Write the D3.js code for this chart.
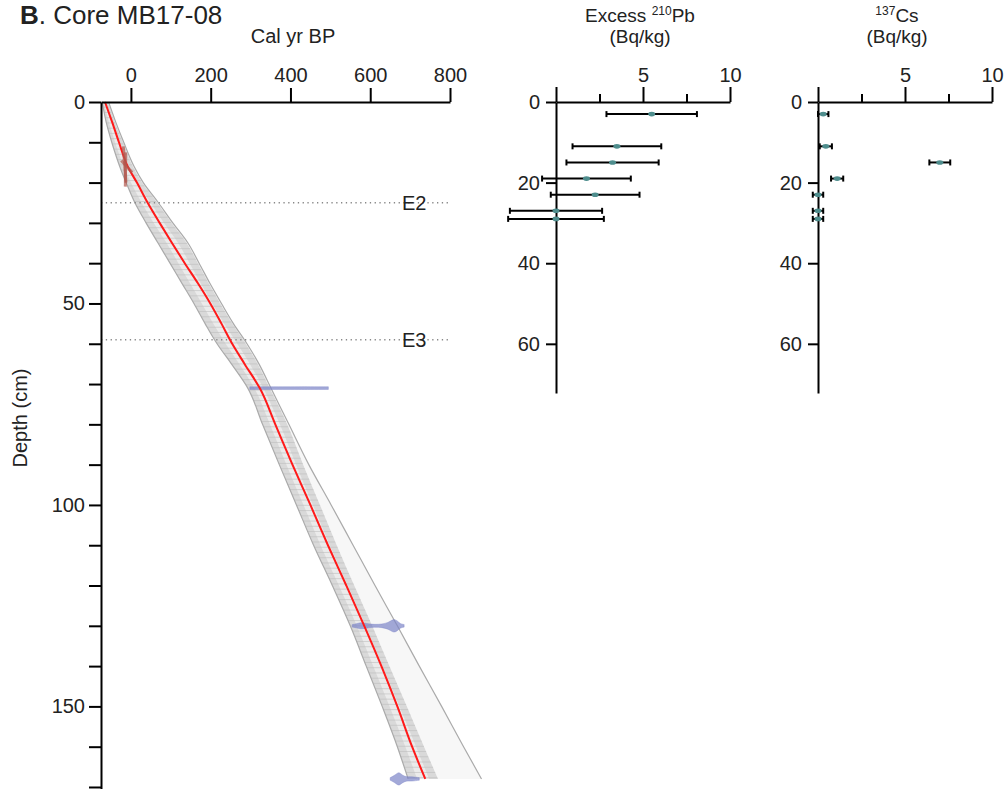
<!DOCTYPE html>
<html><head><meta charset="utf-8">
<script src="https://cdn.jsdelivr.net/npm/d3@7/dist/d3.min.js"></script>
<style>
body{margin:0;background:#fff;}
svg{display:block;font-family:"Liberation Sans",Arial,sans-serif;}
.ax path,.ax line{stroke:#000;stroke-width:2;}
.ax text{font-size:20px;fill:#222;font-family:"Liberation Sans",Arial,sans-serif;}
</style></head>
<body>
<svg id="c" width="1006" height="789"></svg>
<script>
// ---------- DATA ----------
// Age-depth model (median and envelope), depth in cm, age in cal yr BP
const modelDepth = [0,5,10,16,20,25,30,35,40,45,50,55,60,65,71,80,90,100,110,120,130,140,150,160,168];
const modelMedian = [-65,-47,-30,-8,15,42,72,103,135,168,199,227,254,285,323,362,405,450,494,540,585,628,668,705,738];
const modelLower  = [-72,-62,-48,-28,-12,10,38,68,98,128,158,186,216,252,293,330,372,415,458,505,550,590,630,668,695];
const modelUpper  = [-58,-40,-20,5,28,66,102,140,168,195,224,254,288,318,348,392,432,474,516,560,605,648,692,735,770];
const modelOuter  = [-56,-38,-18,8,31,69,105,143,171,198,227,257,291,321,351,396,446,502,557,612,668,723,779,834,879];
// Event horizons
const eventNames = ["E2","E3"];
const eventDepths = [25,59];
// Calibrated radiocarbon dates (age, relative probability) at depth
const calDepths = [71,130,168];
const calAges = [
  [298,310,330,360,380,400,420,435,450,470,495],
  [555,565,575,585,595,610,630,645,655,660,668,675,685],
  [650,660,668,673,680,690,700,710,723]
];
const calProb = [
  [0.2,0.35,0.4,0.3,0.3,0.35,0.4,0.5,0.35,0.25,0.2],
  [0.15,0.3,0.5,0.45,0.3,0.2,0.25,0.5,0.9,1.0,0.8,0.3,0.15],
  [0.15,0.5,0.9,1.0,0.6,0.3,0.35,0.3,0.1]
];
// 210Pb-derived age ranges plotted on the model: [age1, depth1, age2, depth2]
const pbAgeSegs = [[-19,11,-12.5,20],[-24,14.5,3,17.5],[-13,12.5,-14,21]];
// Excess 210Pb
const pbDepth = [3,11,15,19,23,27,29];
const pbValue = [5.5,3.5,3.25,1.75,2.25,0,0];
const pbErr   = [2.6,2.55,2.65,2.55,2.55,2.65,2.75];
// 137Cs
const csDepth = [3,11,15,19,23,27,29];
const csValue = [0.3,0.45,7.0,1.1,0,0,0];
const csErr   = [0.3,0.35,0.6,0.35,0.3,0.3,0.3];
// Tick labels
const ageTicks = [0,200,400,600,800];
const depthTicks = d3.range(0,171,10);
const smallDepthTicks = [0,20,40,60];
const concMajor = [0,5,10];
const concMinor = [2.5,7.5];

// ---------- SCALES ----------
const svg = d3.select("#c");
const x = d3.scaleLinear().domain([-75,800]).range([101,450]);
const y = d3.scaleLinear().domain([0,170.5]).range([102,789]);
const xPb = d3.scaleLinear().domain([0,10]).range([556,730]);
const yPb = d3.scaleLinear().domain([0,72.2]).range([102,393]);
const xCs = d3.scaleLinear().domain([0,10]).range([818,992]);
const yCs = yPb;

// ---------- TITLE ----------
const t = svg.append("text").attr("x",20).attr("y",24).attr("font-size",26).attr("fill","#222");
t.append("tspan").attr("font-weight","bold").text("B");
t.append("tspan").text(". Core MB17-08");
svg.append("text").attr("x",293).attr("y",43).attr("text-anchor","middle").attr("font-size",20).attr("fill","#222").text("Cal yr BP");
svg.append("text").attr("transform","translate(27,418) rotate(-90)").attr("text-anchor","middle").attr("font-size",20).attr("fill","#222").text("Depth (cm)");

// ---------- MODEL ENVELOPE ----------
const idx = d3.range(modelDepth.length);
const defs = svg.append("defs");
defs.append("clipPath").attr("id","bandClip").append("path")
  .attr("d", d3.area().y(i=>y(modelDepth[i])).x0(i=>x(modelLower[i])).x1(i=>x(modelUpper[i])).curve(d3.curveMonotoneY)(idx));
svg.append("path")
  .attr("d", d3.area().y(i=>y(modelDepth[i])).x0(i=>x(modelUpper[i])).x1(i=>x(modelOuter[i])).curve(d3.curveMonotoneY)(idx))
  .attr("fill","#f7f7f7");
svg.append("path")
  .attr("d", d3.area().y(i=>y(modelDepth[i])).x0(i=>x(modelLower[i])).x1(i=>x(modelUpper[i])).curve(d3.curveMonotoneY)(idx))
  .attr("fill","#d9d9d9");
svg.append("path")
  .attr("d", d3.area().y(i=>y(modelDepth[i]))
     .x0(i=>x(modelLower[i]+0.3*(modelUpper[i]-modelLower[i])))
     .x1(i=>x(modelUpper[i]-0.3*(modelUpper[i]-modelLower[i]))).curve(d3.curveMonotoneY)(idx))
  .attr("fill","#ebebeb");
svg.append("g").attr("clip-path","url(#bandClip)")
  .selectAll("line").data(d3.range(0,170,1.3)).join("line")
  .attr("x1",101).attr("x2",500).attr("y1",d=>y(d)).attr("y2",d=>y(d))
  .attr("stroke","#bdbdbd").attr("stroke-width",0.6);
svg.append("path")
  .attr("d", d3.line().y(i=>y(modelDepth[i])).x(i=>x(modelLower[i])).curve(d3.curveMonotoneY)(idx))
  .attr("fill","none").attr("stroke","#aaa").attr("stroke-width",1.2);
svg.append("path")
  .attr("d", d3.line().y(i=>y(modelDepth[i])).x(i=>x(modelOuter[i])).curve(d3.curveMonotoneY)(idx))
  .attr("fill","none").attr("stroke","#aaa").attr("stroke-width",1.2);

// ---------- EVENT LINES ----------
eventDepths.forEach((d,i)=>{
  svg.append("line").attr("x1",101).attr("x2",450).attr("y1",y(d)).attr("y2",y(d))
    .attr("stroke","#888").attr("stroke-width",1.3).attr("stroke-dasharray","1.3,3.5");
  svg.append("text").attr("x",x(800)-48).attr("y",y(d)+7).attr("font-size",20).attr("fill","#222").text(eventNames[i]);
});

// ---------- CALIBRATED DATES ----------
calDepths.forEach((dep,k)=>{
  const pts = calAges[k].map((a,i)=>({a, p:calProb[k][i]}));
  const maxH = k===0 ? 3 : 6.5;
  svg.append("path")
    .attr("d", d3.area().x(p=>x(p.a)).y0(p=>y(dep)-Math.max(1.3,p.p*maxH)).y1(p=>y(dep)+Math.max(1.3,p.p*maxH)).curve(d3.curveBasis)(pts))
    .attr("fill","#7c84c8").attr("fill-opacity",0.7).attr("stroke","#7c84c8").attr("stroke-opacity",0.5).attr("stroke-width",0.8);
});

// ---------- MEDIAN ----------
svg.append("path")
  .attr("d", d3.line().y(i=>y(modelDepth[i])).x(i=>x(modelMedian[i])).curve(d3.curveMonotoneY)(idx))
  .attr("fill","none").attr("stroke","#ff1a1a").attr("stroke-width",2);

// ---------- 210Pb age segments ----------
svg.append("g").selectAll("line").data(pbAgeSegs).join("line")
  .attr("x1",s=>x(s[0])).attr("y1",s=>y(s[1])).attr("x2",s=>x(s[2])).attr("y2",s=>y(s[3]))
  .attr("stroke","#b0564c").attr("stroke-opacity",0.7).attr("stroke-width",3);

// ---------- MAIN AXES ----------
svg.append("g").attr("class","ax").attr("transform","translate(0,102)")
  .call(d3.axisTop(x).tickValues(ageTicks).tickSize(14).tickPadding(6).tickSizeOuter(0));
svg.append("g").attr("class","ax").attr("transform","translate(101,0)")
  .call(d3.axisLeft(y).tickValues(depthTicks).tickSize(12).tickPadding(4).tickSizeOuter(0)
    .tickFormat(d=>d%50===0?d:""));

// ---------- CONCENTRATION PANELS ----------
function panel(xs, ys, depth, val, err, title, supText, rest, tx){
  const tt = svg.append("text").attr("x",tx).attr("y",22).attr("text-anchor","middle").attr("font-size",19).attr("fill","#222");
  if(title) tt.append("tspan").text(title);
  tt.append("tspan").attr("font-size",12).attr("dy",-7).text(supText);
  tt.append("tspan").attr("dy",7).text(rest);
  svg.append("text").attr("x",tx).attr("y",43).attr("text-anchor","middle").attr("font-size",19).attr("fill","#222").text("(Bq/kg)");
  svg.append("g").attr("class","ax").attr("transform","translate(0,102)")
    .call(d3.axisTop(xs).tickValues(concMajor).tickSize(15).tickPadding(5).tickSizeOuter(0).tickFormat(d=>d===0?"":d));
  const mg = svg.append("g").attr("class","ax").attr("transform","translate(0,102)")
    .call(d3.axisTop(xs).tickValues(concMinor).tickSize(8).tickFormat(""));
  mg.select(".domain").remove();
  svg.append("g").attr("class","ax").attr("transform",`translate(${xs(0)},0)`)
    .call(d3.axisLeft(ys).tickValues(smallDepthTicks).tickSize(10).tickPadding(6).tickSizeOuter(0));
  const g = svg.append("g");
  depth.forEach((d,i)=>{
    const yy = ys(d), x0 = xs(val[i]-err[i]), x1 = xs(val[i]+err[i]);
    g.append("line").attr("x1",x0).attr("x2",x1).attr("y1",yy).attr("y2",yy).attr("stroke","#000").attr("stroke-width",2);
    [x0,x1].forEach(xx=>g.append("line").attr("x1",xx).attr("x2",xx).attr("y1",yy-3).attr("y2",yy+3).attr("stroke","#000").attr("stroke-width",2));
    g.append("ellipse").attr("cx",xs(val[i])).attr("cy",yy).attr("rx",3.5).attr("ry",2.3).attr("fill","#4e8d8d");
  });
}
panel(xPb, yPb, pbDepth, pbValue, pbErr, "Excess ", "210", "Pb", 640);
panel(xCs, yCs, csDepth, csValue, csErr, "", "137", "Cs", 897);
</script>
</body></html>
